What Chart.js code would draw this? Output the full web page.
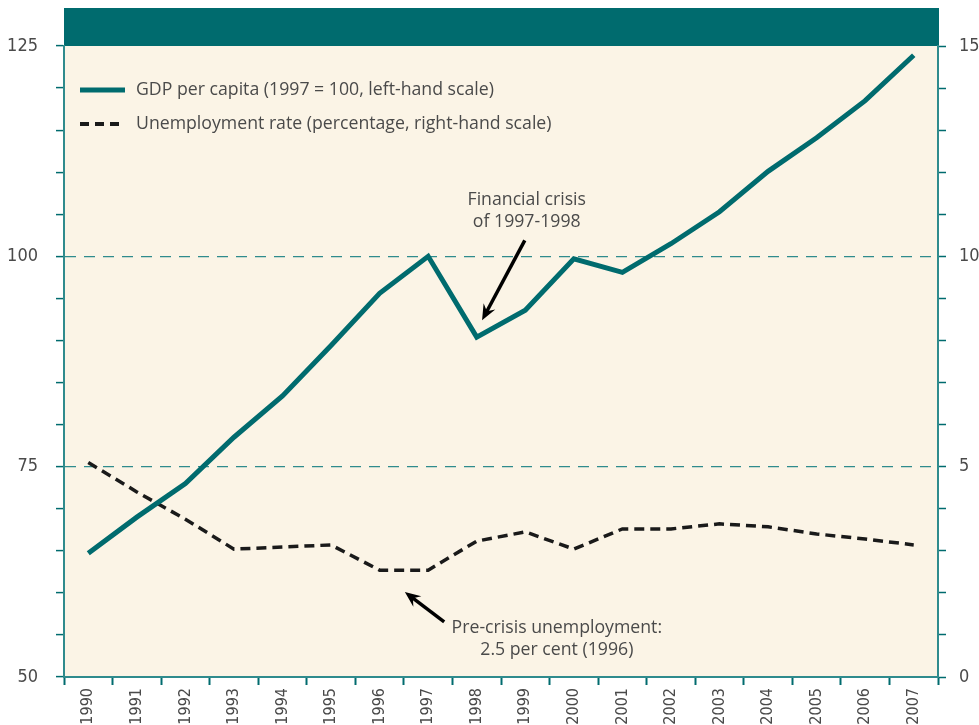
<!DOCTYPE html>
<html>
<head>
<meta charset="utf-8">
<script src="https://cdn.jsdelivr.net/npm/chart.js@4/dist/chart.umd.min.js"></script>
<style>
  html, body { margin: 0; padding: 0; background: #ffffff; }
  #wrap { width: 979px; height: 725px; }
</style>
</head>
<body>
<div id="wrap"><canvas id="graphique"></canvas></div>
<script>
// data
var years = ['1990', '1991', '1992', '1993', '1994', '1995', '1996', '1997', '1998', '1999',
             '2000', '2001', '2002', '2003', '2004', '2005', '2006', '2007'];
var gdpPerCapita = [64.7, 69.0, 73.0, 78.5, 83.4, 89.4, 95.6, 100.0, 90.4, 93.6,
                    99.7, 98.1, 101.5, 105.3, 110.1, 114.1, 118.5, 123.9];
var unemploymentRate = [5.1, 4.4, 3.75, 3.04, 3.09, 3.14, 2.54, 2.54, 3.23, 3.45,
                        3.04, 3.52, 3.52, 3.64, 3.57, 3.4, 3.28, 3.14];
var leftTickLabels = [50, 75, 100, 125];
var rightTickLabels = [0, 5, 10, 15];
var legendLabels = ['GDP per capita (1997 = 100, left-hand scale)',
                    'Unemployment rate (percentage, right-hand scale)'];

var teal = '#006b6e';
var axisTeal = '#2f8b8d';
var textGrey = '#4a4a4a';
var tickFont = "'Liberation Sans Narrow', 'DejaVu Sans Condensed', 'Open Sans', sans-serif";
var textFont = "'Open Sans', 'Noto Sans', sans-serif";

// fond creme + bandeau du haut
var fondPlugin = {
    id: 'fond',
    beforeDraw: function (chart) {
        var ctx = chart.ctx, a = chart.chartArea;
        ctx.save();
        ctx.fillStyle = '#fbf4e6';
        ctx.fillRect(a.left, a.top, a.right - a.left, a.bottom - a.top);
        ctx.fillStyle = teal;
        ctx.fillRect(a.left, a.top - 38, a.right - a.left + 1, 38);
        ctx.restore();
    }
};

function fleche(ctx, x1, y1, x2, y2) {
    var ang = Math.atan2(y2 - y1, x2 - x1);
    var head = 17;
    ctx.beginPath();
    ctx.moveTo(x1, y1);
    ctx.lineTo(x2 - Math.cos(ang) * 8, y2 - Math.sin(ang) * 8);
    ctx.stroke();
    ctx.beginPath();
    ctx.moveTo(x2, y2);
    ctx.lineTo(x2 - head * Math.cos(ang - 0.4), y2 - head * Math.sin(ang - 0.4));
    ctx.lineTo(x2 - head * 0.6 * Math.cos(ang), y2 - head * 0.6 * Math.sin(ang));
    ctx.lineTo(x2 - head * Math.cos(ang + 0.4), y2 - head * Math.sin(ang + 0.4));
    ctx.closePath();
    ctx.fill();
}

// legende + annotations
var notesPlugin = {
    id: 'notes',
    afterDatasetsDraw: function (chart) {
        var ctx = chart.ctx, a = chart.chartArea;
        var x = chart.scales.x, y = chart.scales.y, y1 = chart.scales.y1;
        ctx.save();
        // legende
        ctx.lineWidth = 5;
        ctx.strokeStyle = teal;
        ctx.beginPath();
        ctx.moveTo(a.left + 16, 90); ctx.lineTo(a.left + 61, 90);
        ctx.stroke();
        ctx.strokeStyle = '#1a1a1a';
        ctx.lineWidth = 4;
        ctx.setLineDash([9, 6]);
        ctx.beginPath();
        ctx.moveTo(a.left + 16, 124); ctx.lineTo(a.left + 61, 124);
        ctx.stroke();
        ctx.setLineDash([]);
        ctx.fillStyle = textGrey;
        ctx.font = '17.7px ' + textFont;
        ctx.textBaseline = 'middle';
        ctx.textAlign = 'left';
        ctx.fillText(legendLabels[0], a.left + 72, 90);
        ctx.fillText(legendLabels[1], a.left + 72, 124);

        // crise financiere
        ctx.textAlign = 'center';
        ctx.fillText('Financial crisis', x.getPixelForValue(9.03), y.getPixelForValue(106.7));
        ctx.fillText('of 1997-1998', x.getPixelForValue(9.03), y.getPixelForValue(104.1));
        ctx.strokeStyle = '#000000';
        ctx.fillStyle = '#000000';
        ctx.lineWidth = 3.5;
        fleche(ctx, x.getPixelForValue(8.99), y.getPixelForValue(101.9),
               x.getPixelForValue(8.11), y.getPixelForValue(92.4));

        // chomage avant crise
        ctx.fillStyle = textGrey;
        ctx.fillText('Pre-crisis unemployment:', x.getPixelForValue(9.65), y1.getPixelForValue(1.16));
        ctx.fillText('2.5 per cent (1996)', x.getPixelForValue(9.65), y1.getPixelForValue(0.64));
        ctx.fillStyle = '#000000';
        fleche(ctx, x.getPixelForValue(7.33), y1.getPixelForValue(1.31),
               x.getPixelForValue(6.52), y1.getPixelForValue(2.02));
        ctx.restore();
    }
};

var ctx = document.getElementById('graphique').getContext('2d');
var chart = new Chart(ctx, {
    type: 'line',
    data: {
        labels: years,
        datasets: [
            {
                label: legendLabels[0],
                data: gdpPerCapita,
                yAxisID: 'y',
                borderColor: teal,
                backgroundColor: teal,
                borderWidth: 5,
                pointRadius: 0,
                tension: 0,
                borderJoinStyle: 'miter'
            },
            {
                label: legendLabels[1],
                data: unemploymentRate,
                yAxisID: 'y1',
                borderColor: '#1a1a1a',
                backgroundColor: '#1a1a1a',
                borderWidth: 3.5,
                borderDash: [10, 6],
                pointRadius: 0,
                tension: 0
            }
        ]
    },
    options: {
        responsive: true,
        maintainAspectRatio: false,
        animation: false,
        layout: { padding: { top: 46, left: 0, right: 0, bottom: 0 } },
        plugins: {
            legend: { display: false },
            tooltip: { enabled: false }
        },
        scales: {
            x: {
                offset: true,
                grid: { offset: true, drawOnChartArea: false, tickLength: 8, tickColor: teal, tickWidth: 2 },
                border: { color: axisTeal, width: 2 },
                ticks: {
                    minRotation: 90, maxRotation: 90, autoSkip: false, padding: 3,
                    color: textGrey, font: { family: tickFont, size: 16 }
                },
                afterFit: function (s) { s.height = 48; }
            },
            y: {
                position: 'left',
                min: 50, max: 125,
                grid: {
                    color: function (c) {
                        return (c.tick && (c.tick.value === 75 || c.tick.value === 100)) ? axisTeal : 'rgba(0,0,0,0)';
                    },
                    lineWidth: 1.2,
                    tickLength: 8, tickColor: teal, tickWidth: 1.5
                },
                border: { color: axisTeal, width: 2, dash: [11, 8] },
                ticks: {
                    stepSize: 5, autoSkip: false, padding: 18,
                    color: textGrey, font: { family: tickFont, size: 18 },
                    callback: function (v) { return leftTickLabels.indexOf(v) >= 0 ? String(v) : ''; }
                },
                afterFit: function (s) { s.width = 64; }
            },
            y1: {
                position: 'right',
                min: 0, max: 15,
                grid: { drawOnChartArea: false, tickLength: 8, tickColor: teal, tickWidth: 1.5 },
                border: { color: axisTeal, width: 2 },
                ticks: {
                    stepSize: 1, autoSkip: false, padding: 13,
                    color: textGrey, font: { family: tickFont, size: 18 },
                    callback: function (v) { return rightTickLabels.indexOf(v) >= 0 ? String(v) : ''; }
                },
                afterFit: function (s) { s.width = 41; }
            }
        }
    },
    plugins: [fondPlugin, notesPlugin]
});
</script>
</body>
</html>
